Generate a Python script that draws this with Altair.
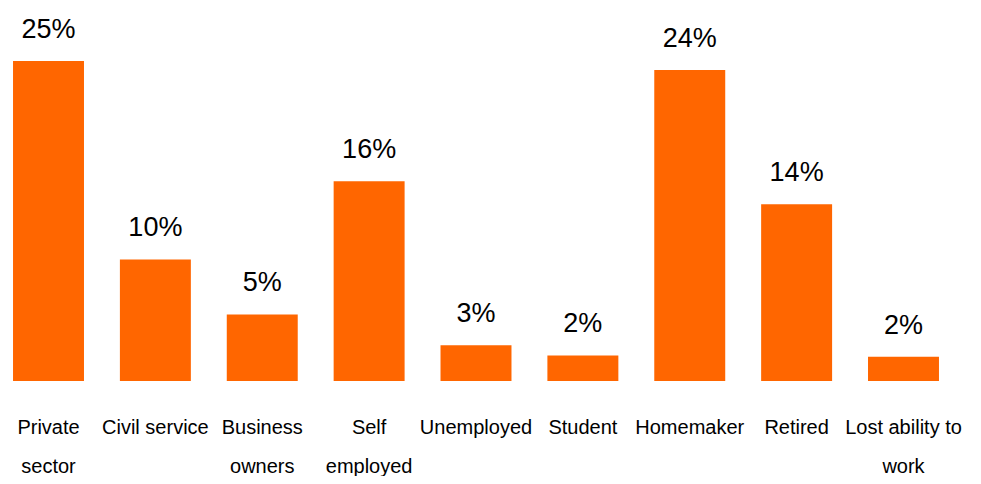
import altair as alt
import pandas as pd

categories = ["Private|sector", "Civil service", "Business|owners", "Self|employed",
              "Unemployed", "Student", "Homemaker", "Retired", "Lost ability to|work"]
values = [25.0, 9.5, 5.2, 15.6, 2.8, 2.0, 24.3, 13.8, 1.9]
labels = ["25%", "10%", "5%", "16%", "3%", "2%", "24%", "14%", "2%"]

df = pd.DataFrame({"cat": categories, "val": values, "lab": labels})

x = alt.X("cat:N", sort=categories, title=None,
          scale=alt.Scale(paddingInner=0.336, paddingOuter=0.047),
          axis=alt.Axis(labelAngle=0, domain=False, ticks=False,
                        labelExpr="split(datum.label, '|')",
                        labelFont="Liberation Sans", labelFontSize=20,
                        labelColor="#000000", labelBaseline="alphabetic",
                        labelPadding=52, labelLineHeight=39, labelLimit=300))
y = alt.Y("val:Q", scale=alt.Scale(domain=[0, 29.14], nice=False, zero=True),
          axis=None)

bars = alt.Chart(df).mark_bar(color="#FF6600").encode(x=x, y=y)
text = alt.Chart(df).mark_text(font="Liberation Sans", fontSize=27, dy=-23,
                               baseline="alphabetic", color="#000000").encode(
    x=alt.X("cat:N", sort=categories), y="val:Q", text="lab:N")

chart = (bars + text).properties(width=936, height=373, padding=0).configure_view(
    stroke=None).configure_axis(grid=False)

chart.save("out.html", embed_options={"renderer": "svg", "actions": False})
